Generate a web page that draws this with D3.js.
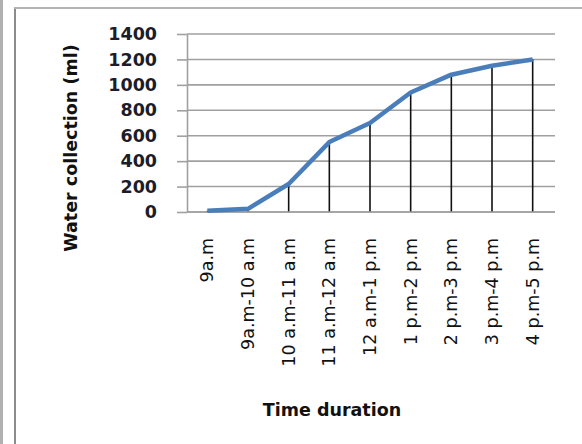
<!DOCTYPE html>
<html>
<head>
<meta charset="utf-8">
<script src="https://cdn.jsdelivr.net/npm/d3@7"></script>
<style>
  html, body { margin: 0; padding: 0; background: #fff; }
  svg { display: block; }
  text { font-family: "DejaVu Sans", Verdana, sans-serif; }
</style>
</head>
<body>
<svg id="chart" width="582" height="444"></svg>
<script>
// Cumulative water collected over the day
const timeSlots = ["9a.m", "9a.m-10 a.m", "10 a.m-11 a.m", "11 a.m-12 a.m", "12 a.m-1 p.m",
                   "1 p.m-2 p.m", "2 p.m-3 p.m", "3 p.m-4 p.m", "4 p.m-5 p.m"];
const waterMl = [10, 25, 220, 550, 700, 940, 1080, 1150, 1200];
const yTicks = [0, 200, 400, 600, 800, 1000, 1200, 1400];

const svg = d3.select("#chart");

// Outer frame
svg.append("rect").attr("x", 0).attr("y", 0).attr("width", 3).attr("height", 444).attr("fill", "#b0b0b0");
svg.append("line").attr("x1", 15).attr("x2", 15).attr("y1", 8).attr("y2", 444)
  .attr("stroke", "#8c8c8c").attr("stroke-width", 2);
svg.append("line").attr("x1", 14).attr("x2", 582).attr("y1", 8).attr("y2", 8)
  .attr("stroke", "#b4b4b4").attr("stroke-width", 2);

const plot = { left: 187, right: 553, top: 34, bottom: 212 };

const x = d3.scalePoint().domain(timeSlots).range([plot.left, plot.right]).padding(0.5);
const y = d3.scaleLinear().domain([0, 1400]).range([plot.bottom, plot.top]);

// Horizontal gridlines
svg.append("g").selectAll("line").data(yTicks).join("line")
  .attr("x1", plot.left).attr("x2", plot.right + 2)
  .attr("y1", d => y(d)).attr("y2", d => y(d))
  .attr("stroke", "#a0a0a0").attr("stroke-width", 1.6);

// Y axis with outward ticks
const yAxis = svg.append("g").attr("transform", `translate(${plot.left},0)`)
  .call(d3.axisLeft(y).tickValues(yTicks).tickFormat(d3.format("d"))
    .tickSize(10).tickPadding(20).tickSizeOuter(0));
yAxis.select(".domain").attr("stroke", "#a0a0a0").attr("stroke-width", 1.6);
yAxis.selectAll(".tick line").attr("stroke", "#a0a0a0").attr("stroke-width", 1.6);
yAxis.selectAll(".tick text").attr("font-size", 17.5).attr("fill", "#1c1c2a")
  .attr("font-family", "DejaVu Sans").attr("font-weight", "bold");

// Drop lines from each point to the category axis
svg.append("g").selectAll("line").data(waterMl).join("line")
  .attr("x1", (d, i) => x(timeSlots[i])).attr("x2", (d, i) => x(timeSlots[i]))
  .attr("y1", d => y(d)).attr("y2", plot.bottom)
  .attr("stroke", "#111").attr("stroke-width", 1.6);

// X axis line
svg.append("line").attr("x1", plot.left).attr("x2", plot.right + 2)
  .attr("y1", plot.bottom).attr("y2", plot.bottom)
  .attr("stroke", "#a0a0a0").attr("stroke-width", 1.6);

// Category labels, rotated
svg.append("g").selectAll("text").data(timeSlots).join("text")
  .attr("transform", d => `translate(${x(d)},238) rotate(-90)`)
  .attr("dy", "0.35em")
  .attr("text-anchor", "end")
  .attr("font-size", 17.5).attr("fill", "#111")
  .text(d => d);

// Collection line
const line = d3.line().x((d, i) => x(timeSlots[i])).y(d => y(d));
svg.append("path").datum(waterMl)
  .attr("d", line)
  .attr("fill", "none").attr("stroke", "#4a7ebb").attr("stroke-width", 4.5)
  .attr("stroke-linejoin", "round");

// Axis titles
svg.append("text").attr("x", 332).attr("y", 416).attr("text-anchor", "middle")
  .attr("font-size", 17.5).attr("font-weight", "bold").attr("fill", "#111")
  .text("Time duration");
svg.append("text").attr("transform", "translate(77,148) rotate(-90)")
  .attr("text-anchor", "middle")
  .attr("font-size", 17.5).attr("font-weight", "bold").attr("fill", "#111")
  .text("Water collection (ml)");
</script>
</body>
</html>
